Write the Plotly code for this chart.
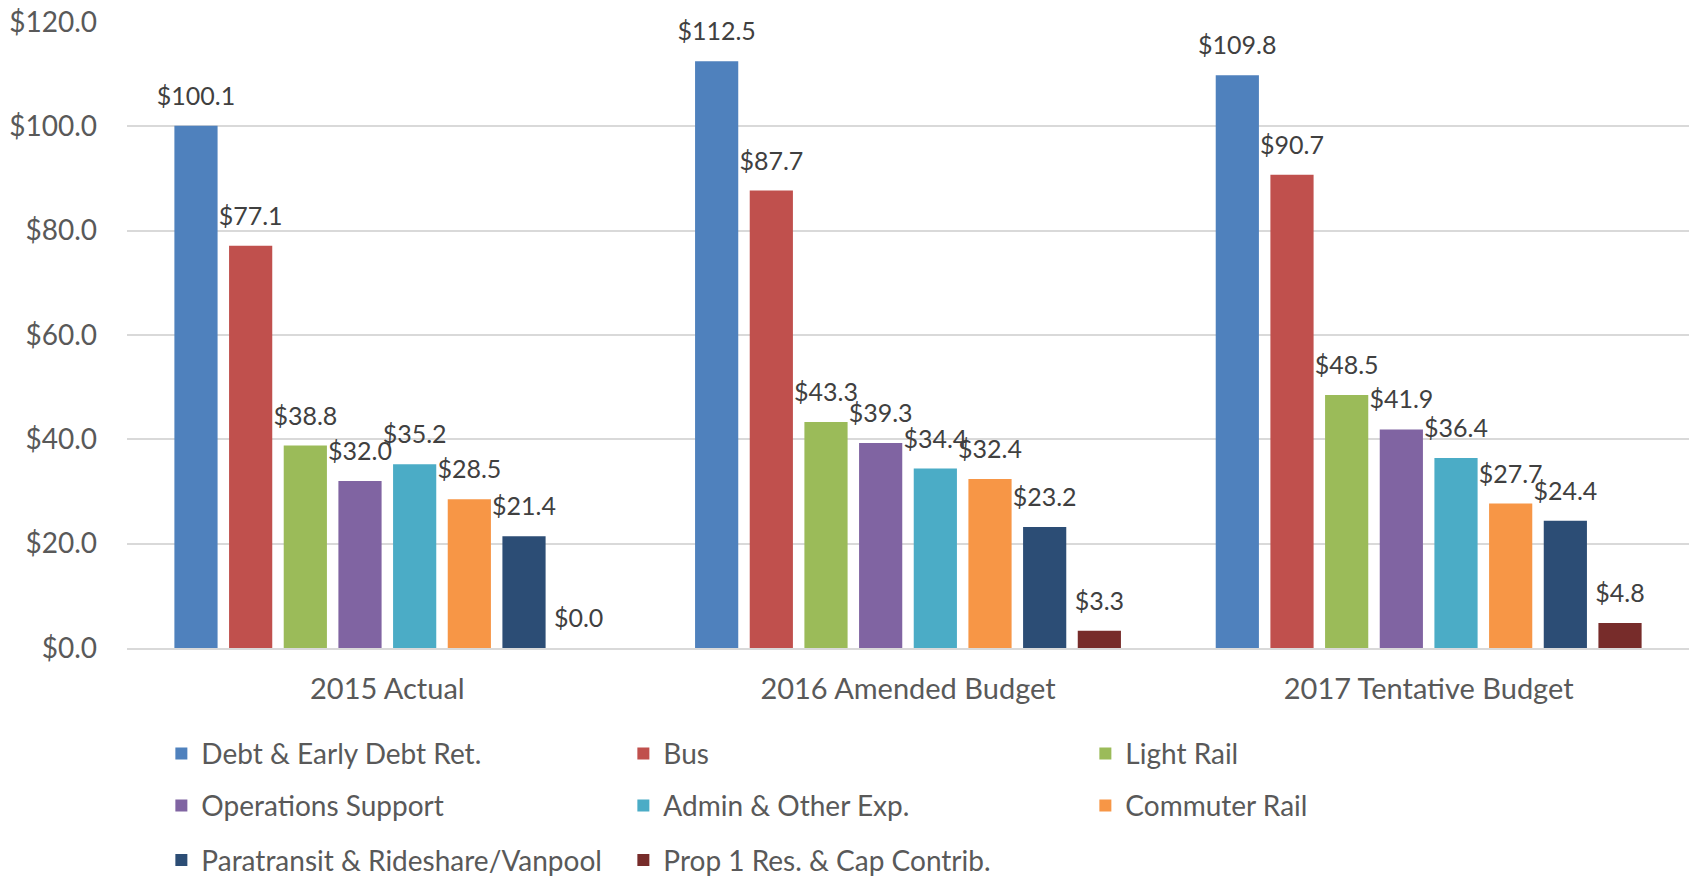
import plotly.graph_objects as go

categories = ["2015 Actual", "2016 Amended Budget", "2017 Tentative Budget"]

series_names = [
    "Debt & Early Debt Ret.",
    "Bus",
    "Light Rail",
    "Operations Support",
    "Admin & Other Exp.",
    "Commuter Rail",
    "Paratransit & Rideshare/Vanpool",
    "Prop 1 Res. & Cap Contrib.",
]

debt = [100.1, 112.5, 109.8]
bus = [77.1, 87.7, 90.7]
light_rail = [38.8, 43.3, 48.5]
operations_support = [32.0, 39.3, 41.9]
admin_other = [35.2, 34.4, 36.4]
commuter_rail = [28.5, 32.4, 27.7]
paratransit = [21.4, 23.2, 24.4]
prop1 = [0.0, 3.3, 4.8]

series_values = [debt, bus, light_rail, operations_support,
                 admin_other, commuter_rail, paratransit, prop1]

colors = ["#4F81BD", "#C0504D", "#9BBB59", "#8064A2",
          "#4BACC6", "#F79646", "#2C4D75", "#772C2A"]

tick_vals = [0, 20, 40, 60, 80, 100, 120]
tick_text = ["$0.0", "$20.0", "$40.0", "$60.0", "$80.0", "$100.0", "$120.0"]

FONT = "Lato"
legend_rows = ["legend", "legend2", "legend3"]
GAP = 0.16

fig = go.Figure()
for i, (name, vals, col) in enumerate(zip(series_names, series_values, colors)):
    fig.add_trace(go.Bar(
        name=name,
        x=categories,
        y=vals,
        marker=dict(color=col, line=dict(width=0)),
        legend=legend_rows[i // 3],
        hovertemplate="%{x}<br>" + name + ": $%{y:.1f}<extra></extra>",
    ))

# value labels: grouped text points sitting above each bar, lifted by an
# invisible marker so the label clears the bar top
for name, vals in zip(series_names, series_values):
    fig.add_trace(go.Scatter(
        x=categories,
        y=vals,
        mode="markers+text",
        marker=dict(size=22, opacity=0),
        texttemplate="$%{y:.1f}",
        textposition="top center",
        textfont=dict(family=FONT, size=25, color="#404040"),
        cliponaxis=False,
        showlegend=False,
        hoverinfo="skip",
    ))

# three legend rows, three entries each, laid out below the axis
row_y = [-0.169, -0.252, -0.339]
legend_common = dict(
    orientation="h",
    xanchor="left",
    yanchor="middle",
    x=0.022,
    entrywidth=417,
    entrywidthmode="pixels",
    font=dict(family=FONT, size=28, color="#595959"),
    bgcolor="rgba(0,0,0,0)",
    traceorder="normal",
)

fig.update_layout(
    width=1694,
    height=877,
    margin=dict(l=127, r=5, t=22, b=229, autoexpand=False),
    paper_bgcolor="white",
    plot_bgcolor="white",
    barmode="group",
    bargap=GAP,
    bargroupgap=0.21,
    scattermode="group",
    scattergap=GAP,
    font=dict(family=FONT, color="#595959"),
    showlegend=True,
    legend=dict(**legend_common, y=row_y[0]),
    legend2=dict(**legend_common, y=row_y[1]),
    legend3=dict(**legend_common, y=row_y[2]),
    xaxis=dict(
        type="category",
        showgrid=False,
        showline=True,
        linecolor="#d9d9d9",
        linewidth=2,
        ticks="",
        tickfont=dict(family=FONT, size=29, color="#595959"),
        ticklabelstandoff=14,
    ),
    yaxis=dict(
        range=[0, 120],
        tickvals=tick_vals,
        ticktext=tick_text,
        showgrid=True,
        gridcolor="#d9d9d9",
        gridwidth=2,
        zeroline=False,
        showline=False,
        ticks="",
        tickfont=dict(family=FONT, size=28, color="#595959"),
        ticklabelstandoff=29,
    ),
)

fig.write_html("out.html")
